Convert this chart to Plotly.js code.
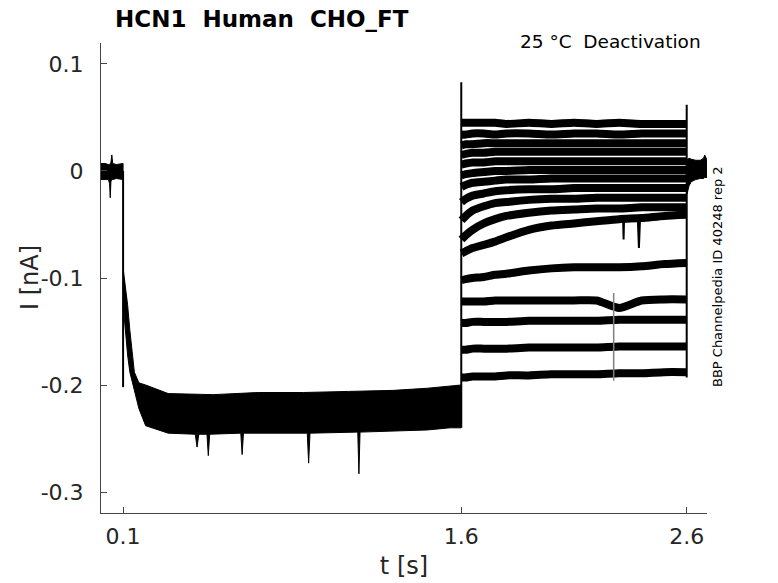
<!DOCTYPE html>
<html>
<head>
<meta charset="utf-8">
<script src="https://cdn.plot.ly/plotly-3.0.1.min.js"></script>
<style>html,body{margin:0;padding:0;background:#fff;}#chart{width:778px;height:583px;}</style>
</head>
<body>
<div id="chart"></div>
<script>
// ---------- data (t in s, I in nA) ----------
const xTickVals = [0.1, 1.6, 2.6];
const xTickText = ['0.1', '1.6', '2.6'];
const yTickVals = [0.1, 0, -0.1, -0.2, -0.3];
const yTickText = ['0.1', '0', '-0.1', '-0.2', '-0.3'];

// pre-pulse baseline (0 - 0.1 s) noise envelope
const tEnv0 = [0.002, 0.02, 0.035, 0.04, 0.043, 0.046, 0.05, 0.052, 0.054, 0.07, 0.0999];
const iEnv0Upper = [0.007, 0.007, 0.006, 0.006, 0.007, 0.008, 0.015, 0.008, 0.007, 0.006, 0.007];
const iEnv0Lower = [-0.008, -0.008, -0.008, -0.012, -0.025, -0.010, -0.008, -0.008, -0.008, -0.007, -0.008];

// activating step (0.1 - 1.6 s): noise envelope of all overlapping sweeps
const tEnv1Upper = [0.1001, 0.11, 0.12, 0.13, 0.14, 0.15, 0.17, 0.2, 0.3, 0.5, 0.7, 0.9, 1.1, 1.3, 1.45, 1.55, 1.599];
const iEnv1Upper = [-0.091, -0.107, -0.125, -0.149, -0.172, -0.188, -0.198, -0.200, -0.208, -0.209, -0.207, -0.207, -0.206, -0.205, -0.203, -0.201, -0.200];
const tEnv1Lower = [0.1001, 0.11, 0.12, 0.13, 0.14, 0.15, 0.17, 0.2, 0.3, 0.42, 0.428, 0.436, 0.472, 0.478, 0.484, 0.622, 0.628, 0.634, 0.917, 0.923, 0.929, 1.141, 1.146, 1.151, 1.3, 1.45, 1.55, 1.599];
const iEnv1Lower = [-0.125, -0.149, -0.172, -0.188, -0.197, -0.205, -0.222, -0.238, -0.245, -0.246, -0.258, -0.246, -0.246, -0.266, -0.246, -0.245, -0.265, -0.245, -0.245, -0.273, -0.245, -0.244, -0.283, -0.244, -0.243, -0.242, -0.240, -0.240];

// tail steps (1.6 - 2.6 s), one array per sweep
const tSeg2 = [1.601, 1.62, 1.65, 1.7, 1.75, 1.8, 1.9, 2.0, 2.1, 2.2, 2.3, 2.4, 2.5, 2.599];
const sweep01 = [0.045, 0.045, 0.045, 0.045, 0.045, 0.044, 0.045, 0.044, 0.045, 0.044, 0.045, 0.044, 0.044, 0.044];
const sweep02 = [0.034, 0.034, 0.035, 0.035, 0.034, 0.035, 0.035, 0.034, 0.035, 0.035, 0.034, 0.035, 0.035, 0.035];
const sweep03 = [0.024, 0.025, 0.025, 0.026, 0.026, 0.026, 0.026, 0.026, 0.026, 0.026, 0.026, 0.026, 0.026, 0.026];
const sweep04 = [0.015, 0.016, 0.017, 0.017, 0.018, 0.018, 0.018, 0.018, 0.018, 0.018, 0.018, 0.018, 0.018, 0.018];
const sweep05 = [0.006, 0.007, 0.008, 0.008, 0.009, 0.009, 0.009, 0.009, 0.009, 0.009, 0.009, 0.009, 0.009, 0.009];
const sweep06 = [-0.004, -0.003, -0.002, -0.001, 0.000, 0.000, 0.001, 0.001, 0.001, 0.001, 0.001, 0.001, 0.001, 0.001];
const sweep07 = [-0.015, -0.013, -0.011, -0.010, -0.009, -0.008, -0.008, -0.007, -0.007, -0.007, -0.007, -0.007, -0.007, -0.007];
const sweep08 = [-0.029, -0.026, -0.023, -0.021, -0.019, -0.018, -0.017, -0.017, -0.016, -0.016, -0.016, -0.016, -0.016, -0.016];
const sweep09 = [-0.046, -0.042, -0.037, -0.033, -0.030, -0.029, -0.027, -0.026, -0.026, -0.025, -0.025, -0.025, -0.025, -0.025];
const sweep10 = [-0.064, -0.060, -0.055, -0.049, -0.045, -0.042, -0.039, -0.037, -0.036, -0.035, -0.035, -0.034, -0.034, -0.034];
const sweep11 = [-0.077, -0.075, -0.072, -0.069, -0.066, -0.062, -0.055, -0.051, -0.049, -0.047, -0.045, -0.044, -0.042, -0.041];
const sweep12 = [-0.102, -0.101, -0.100, -0.099, -0.097, -0.096, -0.093, -0.091, -0.090, -0.090, -0.090, -0.089, -0.087, -0.086];
const sweep13 = [-0.122, -0.122, -0.122, -0.122, -0.121, -0.121, -0.121, -0.121, -0.121, -0.121, -0.128, -0.121, -0.120, -0.120];
const sweep14 = [-0.142, -0.142, -0.141, -0.141, -0.141, -0.141, -0.140, -0.140, -0.140, -0.140, -0.139, -0.139, -0.139, -0.139];
const sweep15 = [-0.167, -0.167, -0.166, -0.166, -0.166, -0.166, -0.165, -0.165, -0.165, -0.165, -0.164, -0.164, -0.164, -0.164];
const sweep16 = [-0.193, -0.193, -0.192, -0.192, -0.192, -0.191, -0.191, -0.190, -0.190, -0.190, -0.189, -0.189, -0.188, -0.188];

// short glitches on individual sweeps (thin spikes)
const tGlitch = [2.383, 2.388, 2.393, null, 2.318, 2.32, 2.322];
const iGlitch = [-0.044, -0.072, -0.044, null, -0.045, -0.064, -0.045];
const tGlitchGray = [2.276, 2.276];
const iGlitchGray = [-0.114, -0.196];

// return to holding (2.6 s - end) noise envelope
const tEnv3 = [2.601, 2.61, 2.62, 2.64, 2.66, 2.675, 2.68, 2.69];
const iEnv3Upper = [0.010, 0.012, 0.011, 0.010, 0.010, 0.012, 0.015, 0.010];
const iEnv3Lower = [-0.022, -0.014, -0.010, -0.008, -0.007, -0.007, -0.006, -0.006];

// voltage-step jumps with capacitive transients
const tTrans = [0.1, 0.1, null, 1.6, 1.6, null, 2.6, 2.6];
const iTrans = [0.0, -0.202, null, -0.240, 0.083, null, -0.193, 0.062];

// ---------- build traces ----------
const sweeps = [sweep01, sweep02, sweep03, sweep04, sweep05, sweep06, sweep07, sweep08,
                sweep09, sweep10, sweep11, sweep12, sweep13, sweep14, sweep15, sweep16];

const traces = [];
sweeps.forEach((s) => {
  traces.push({
    type: 'scatter', mode: 'lines', hoverinfo: 'skip', showlegend: false,
    x: tSeg2, y: s,
    line: {color: '#000', width: 8, shape: 'spline', smoothing: 0.6}
  });
});

function band(t, up, tl, lo) {
  return {
    type: 'scatter', mode: 'lines', hoverinfo: 'skip', showlegend: false,
    x: t.concat(tl.slice().reverse()),
    y: up.concat(lo.slice().reverse()),
    fill: 'toself', fillcolor: '#000', line: {color: '#000', width: 1}
  };
}
traces.push(band(tEnv0, iEnv0Upper, tEnv0, iEnv0Lower));
traces.push(band(tEnv1Upper, iEnv1Upper, tEnv1Lower, iEnv1Lower));
traces.push(band(tEnv3, iEnv3Upper, tEnv3, iEnv3Lower));
traces.push({
  type: 'scatter', mode: 'lines', hoverinfo: 'skip', showlegend: false,
  x: tGlitch, y: iGlitch, line: {color: '#000', width: 2}
});
traces.push({
  type: 'scatter', mode: 'lines', hoverinfo: 'skip', showlegend: false,
  x: tGlitchGray, y: iGlitchGray, line: {color: '#808080', width: 1.5}
});
traces.push({
  type: 'scatter', mode: 'lines', hoverinfo: 'skip', showlegend: false,
  x: tTrans, y: iTrans, line: {color: '#000', width: 2}
});

const fam = 'DejaVu Sans, sans-serif';
const tickFont = {family: fam, size: 22, color: '#262626'};
const layout = {
  width: 778, height: 583,
  margin: {l: 101, r: 71, t: 43, b: 70, pad: 0},
  paper_bgcolor: '#fff', plot_bgcolor: '#fff',
  showlegend: false,
  title: {
    text: '<b>HCN1  Human  CHO_FT</b>',
    font: {family: fam, size: 23, color: '#000'},
    xref: 'container', yref: 'container',
    x: 115 / 778, xanchor: 'left', y: 1 - 19 / 583, yanchor: 'middle'
  },
  xaxis: {
    range: [0.002, 2.69], showgrid: false, zeroline: false,
    showline: true, linecolor: '#454545', linewidth: 1, mirror: false,
    ticks: 'inside', ticklen: 6, tickcolor: '#454545', tickwidth: 1,
    tickvals: xTickVals, ticktext: xTickText, tickfont: tickFont,
    ticklabelstandoff: 4,
    title: {text: 't [s]', font: {family: fam, size: 24, color: '#262626'}, standoff: 8}
  },
  yaxis: {
    range: [-0.3196, 0.1196], showgrid: false, zeroline: false,
    showline: true, linecolor: '#454545', linewidth: 1, mirror: false,
    ticks: 'inside', ticklen: 6, tickcolor: '#454545', tickwidth: 1,
    tickvals: yTickVals, ticktext: yTickText, tickfont: tickFont,
    ticklabelstandoff: 12
  },
  annotations: [
    {text: 'I [nA]', xref: 'paper', yref: 'paper',
     x: (30 - 101) / 606, y: (513 - 278) / 470, xanchor: 'center', yanchor: 'middle',
     textangle: -90, showarrow: false, font: {family: fam, size: 24, color: '#262626'}},
    {text: '25 °C  Deactivation', xref: 'paper', yref: 'paper',
     x: (703 - 101) / 606, y: (513 - 41) / 470, xanchor: 'right', yanchor: 'middle',
     showarrow: false, font: {family: fam, size: 18.5, color: '#000'}},
    {text: 'BBP Channelpedia ID 40248 rep 2', xref: 'paper', yref: 'paper',
     x: (717 - 101) / 606, y: (513 - 277) / 470, xanchor: 'center', yanchor: 'middle',
     textangle: -90, showarrow: false, font: {family: fam, size: 13, color: '#000'}}
  ]
};

Plotly.newPlot('chart', traces, layout, {staticPlot: true, displayModeBar: false});
</script>
</body>
</html>
